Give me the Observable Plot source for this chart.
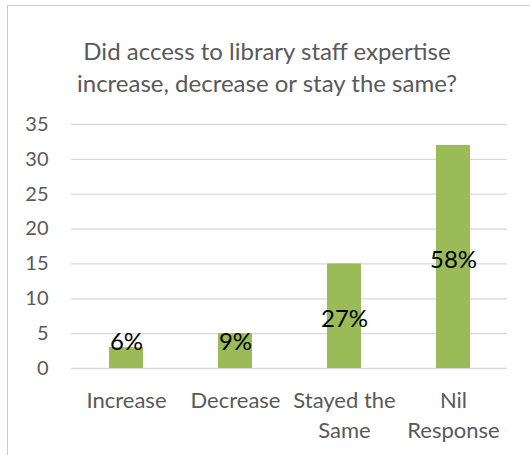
<!DOCTYPE html>
<html>
<head>
<meta charset="utf-8">
<script src="https://cdn.jsdelivr.net/npm/d3@7"></script>
<script src="https://cdn.jsdelivr.net/npm/@observablehq/plot@0.6"></script>
<style>
  html, body { margin: 0; padding: 0; background: #fff; }
  #wrap { position: relative; width: 530px; height: 455px; overflow: hidden; font-family: Lato, "Open Sans", sans-serif; }
  #frame { position: absolute; left: 7px; top: 5px; width: 540px; height: 470px; border-top: 1.5px solid #d0d0d0; border-left: 1.5px solid #c8c8c8; }
  #title { position: absolute; left: 0; top: 35px; width: 534px; text-align: center; font-size: 24px; line-height: 32px; color: #595959; }
  #chart { position: absolute; left: 0; top: 110px; }
</style>
</head>
<body>
<div id="wrap">
  <div id="frame"></div>
  <div id="title">Did access to library staff expertise<br>increase, decrease or stay the same?</div>
  <div id="chart"></div>
</div>
<script>
const categories = ["Increase", "Decrease", "Stayed the Same", "Nil Response"];
const categoryLabels = ["Increase", "Decrease", "Stayed the\nSame", "Nil\nResponse"];
const counts = [3, 5, 15, 32];
const percentLabels = ["6%", "9%", "27%", "58%"];
const labelAt = [3.7, 3.7, 7, 15.5];
const yTicks = [0, 5, 10, 15, 20, 25, 30, 35];

const data = categories.map((c, i) => ({
  category: c, label: categoryLabels[i], count: counts[i], pct: percentLabels[i], at: labelAt[i]
}));
const labelOf = new Map(categories.map((c, i) => [c, categoryLabels[i]]));

const chart = Plot.plot({
  width: 530,
  height: 345,
  marginTop: 14,
  marginBottom: 87,
  marginLeft: 71,
  marginRight: 23,
  style: { fontFamily: "Lato, 'Open Sans', sans-serif", background: "transparent", overflow: "visible" },
  x: { domain: categories, paddingInner: 0.69, paddingOuter: 0.345, label: null },
  y: { domain: [0, 35], label: null },
  marks: [
    Plot.ruleY(yTicks, { stroke: "#d9d9d9", strokeWidth: 1.3 }),
    Plot.barY(data, { x: "category", y: "count", fill: "#9bbb59" }),
    Plot.text(data, { x: "category", y: "at", text: "pct", fontSize: 24, fill: "#000" }),
    Plot.axisY({ ticks: yTicks, tickSize: 0, tickPadding: 23, fontSize: 20, color: "#595959", label: null }),
    Plot.axisX({ tickSize: 0, tickPadding: 19, fontSize: 22, color: "#595959", lineHeight: 1.33, tickFormat: d => labelOf.get(d), label: null })
  ]
});
document.getElementById("chart").appendChild(chart);
</script>
</body>
</html>
